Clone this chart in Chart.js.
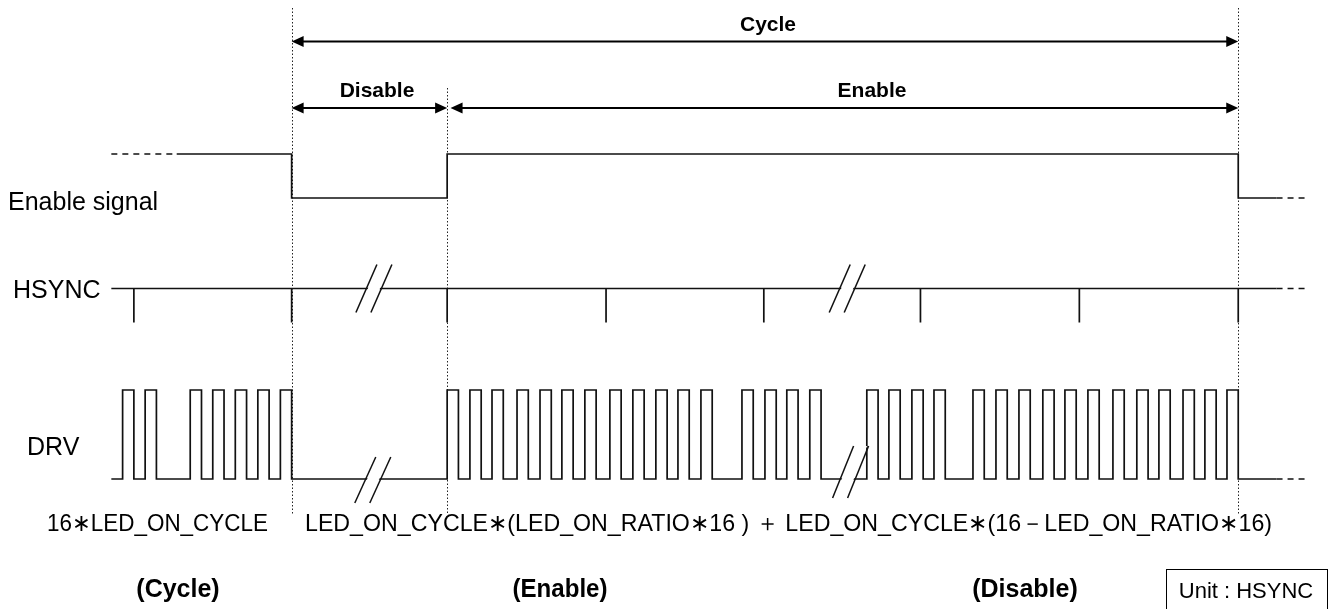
<!DOCTYPE html>
<html>
<head>
<meta charset="utf-8">
<script src="https://cdn.jsdelivr.net/npm/chart.js@4.4.1/dist/chart.umd.min.js"></script>
<style>
  html, body { margin: 0; padding: 0; background: #fff; }
  #wrap { width: 1332px; height: 609px; }
</style>
</head>
<body>
<div id="wrap"><canvas id="cadre" width="1332" height="609"></canvas></div>
<script>
// time axis counted in DRV slots, 0 = start of the cycle
const hsyncTicks = [-7, 0, 6.9, 13.95, 20.95, 27.9, 34.95, 42];
const drvRises = [
  -7.5, -6.5, -4.5, -3.5, -2.5, -1.5, -0.5,
  6.9, 7.91, 8.89, 10.0, 11.02, 11.99, 13.01, 14.12, 15.14, 16.16, 17.14, 18.16,
  19.98, 21.0, 21.97, 22.99,
  25.52, 26.5, 27.52, 28.5,
  30.23, 31.25, 32.27, 33.33, 34.31, 35.33, 36.44, 37.5, 38.48, 39.55, 40.52, 41.5
];
const drvHighLen = 0.5;
const enableStartLevel = 1;
const enableEdges = [0, 6.9, 42];
const enableLevels = [0, 1, 0];
const hsyncBreaks = [3.65, 24.65];
const drvBreaks = [3.6, 24.8];
const cycleMarks = [0, 6.9, 42];
const spanNames = ["Cycle", "Disable", "Enable"];
const spanFrom = [0, 0, 7.05];
const spanTo = [42, 6.9, 42];
const laneNames = ["Enable signal", "HSYNC", "DRV"];
const formulaTexts = [
  "16\u2217LED_ON_CYCLE",
  "LED_ON_CYCLE\u2217(LED_ON_RATIO\u221716 ) \uFF0B LED_ON_CYCLE\u2217(16\uFF0DLED_ON_RATIO\u221716)"
];
const formulaNames = ["(Cycle)", "(Enable)", "(Disable)"];
const unitText = "Unit : HSYNC";

// where the lines start / go dashed
const traceStart = -8;
const enableSolidFrom = -5.1;
const tailDash = 43.7;
const traceEnd = 45.05;

// lanes on the y scale (rows from the top)
const lane = {
  enable: { hi: 154, lo: 198 },
  hsync: { base: 288.5, tick: 322.5 },
  drv: { hi: 390, lo: 479 }
};

const ink = "#111";
const font = "'Liberation Sans', Arial, sans-serif";

// ---- build the datasets ----
let enableData = [
  { x: traceStart, y: enableStartLevel ? lane.enable.hi : lane.enable.lo },
  { x: enableSolidFrom, y: enableStartLevel ? lane.enable.hi : lane.enable.lo }
];
for (let i = 0; i < enableEdges.length; i++) {
  enableData.push({ x: enableEdges[i], y: enableLevels[i] ? lane.enable.hi : lane.enable.lo });
}
enableData.push({ x: tailDash, y: lane.enable.lo });
enableData.push({ x: traceEnd, y: lane.enable.lo });

let hsyncData = [{ x: traceStart, y: lane.hsync.base }];
hsyncTicks.forEach(t => {
  hsyncData.push({ x: t, y: lane.hsync.base });
  hsyncData.push({ x: t, y: lane.hsync.tick });
  hsyncData.push({ x: t, y: lane.hsync.base });
});
hsyncData.push({ x: tailDash, y: lane.hsync.base });
hsyncData.push({ x: traceEnd, y: lane.hsync.base });

let drvData = [{ x: traceStart, y: lane.drv.lo }];
drvRises.forEach(r => {
  drvData.push({ x: r, y: lane.drv.hi });
  drvData.push({ x: r + drvHighLen, y: lane.drv.lo });
});
drvData.push({ x: tailDash, y: lane.drv.lo });
drvData.push({ x: traceEnd, y: lane.drv.lo });

function trace(data, stepped, solidFrom) {
  return {
    data: data,
    stepped: stepped,
    borderColor: ink,
    borderWidth: 1.7,
    pointRadius: 0,
    fill: false,
    tension: 0,
    segment: {
      borderDash: ctx => {
        if (ctx.p1.parsed.x <= solidFrom + 0.001 || ctx.p0.parsed.x >= tailDash - 0.001) {
          return [6, 5];
        }
        return undefined;
      }
    }
  };
}

// ---- extra drawing: guides, arrows, breaks, texts ----
function arrowHead(ctx, x, y, dir) {
  ctx.beginPath();
  ctx.moveTo(x, y);
  ctx.lineTo(x + dir * 12, y - 5.5);
  ctx.lineTo(x + dir * 12, y + 5.5);
  ctx.closePath();
  ctx.fill();
}

function breakMark(ctx, cx, cy, dy) {
  const dx = 10.5, gap = 7.5;
  ctx.save();
  ctx.fillStyle = "#fff";
  ctx.beginPath();
  ctx.moveTo(cx - gap - dx + 1.5, cy + dy);
  ctx.lineTo(cx - gap + dx + 1.5, cy - dy);
  ctx.lineTo(cx + gap + dx - 1.5, cy - dy);
  ctx.lineTo(cx + gap - dx - 1.5, cy + dy);
  ctx.closePath();
  ctx.fill();
  ctx.strokeStyle = ink;
  ctx.lineWidth = 1.5;
  [-gap, gap].forEach(o => {
    ctx.beginPath();
    ctx.moveTo(cx + o - dx, cy + dy);
    ctx.lineTo(cx + o + dx, cy - dy);
    ctx.stroke();
  });
  ctx.restore();
}

function text(ctx, str, x, y, opts) {
  ctx.font = (opts.bold ? "bold " : "") + opts.size + "px " + font;
  ctx.textAlign = opts.align || "left";
  ctx.textBaseline = "alphabetic";
  if (opts.maxWidth) {
    ctx.fillText(str, x, y, opts.maxWidth);
  } else {
    ctx.fillText(str, x, y);
  }
}

const guides = {
  id: "guides",
  beforeDatasetsDraw(chart) {
    const ctx = chart.ctx;
    const xs = chart.scales.x, ys = chart.scales.y;
    ctx.save();
    ctx.strokeStyle = "#222";
    ctx.lineWidth = 1;
    ctx.setLineDash([1.5, 2]);
    cycleMarks.forEach((t, i) => {
      const x = Math.round(xs.getPixelForValue(t)) + 0.5;
      const top = i === 1 ? 88 : 8;
      ctx.beginPath();
      ctx.moveTo(x, ys.getPixelForValue(top));
      ctx.lineTo(x, ys.getPixelForValue(515));
      ctx.stroke();
    });
    ctx.restore();
  },
  afterDatasetsDraw(chart) {
    const ctx = chart.ctx;
    const xs = chart.scales.x, ys = chart.scales.y;
    ctx.save();

    // breaks
    hsyncBreaks.forEach(t => breakMark(ctx, xs.getPixelForValue(t), ys.getPixelForValue(lane.hsync.base), 24));
    breakMark(ctx, xs.getPixelForValue(drvBreaks[0]), ys.getPixelForValue(480), 23);
    breakMark(ctx, xs.getPixelForValue(drvBreaks[1]), ys.getPixelForValue(472), 26);

    // span arrows
    ctx.fillStyle = "#000";
    ctx.strokeStyle = "#000";
    const arrowY = [41.5, 108, 108];
    const labelY = [31, 97, 97];
    const labelX = [768, 377, 872];
    for (let i = 0; i < spanNames.length; i++) {
      const x1 = xs.getPixelForValue(spanFrom[i]);
      const x2 = xs.getPixelForValue(spanTo[i]);
      const y = ys.getPixelForValue(arrowY[i]);
      ctx.lineWidth = 2;
      ctx.beginPath();
      ctx.moveTo(x1 + 6, y);
      ctx.lineTo(x2 - 6, y);
      ctx.stroke();
      arrowHead(ctx, x1, y, 1);
      arrowHead(ctx, x2, y, -1);
      text(ctx, spanNames[i], labelX[i], labelY[i], { size: 21, bold: true, align: "center" });
    }

    // lane names
    text(ctx, laneNames[0], 8, 210, { size: 25, maxWidth: 157 });
    text(ctx, laneNames[1], 13, 298, { size: 25, maxWidth: 90 });
    text(ctx, laneNames[2], 27, 455, { size: 25 });

    // formula lines
    text(ctx, formulaTexts[0], 47, 531, { size: 24, maxWidth: 221 });
    text(ctx, formulaTexts[1], 305, 531, { size: 24, maxWidth: 967 });
    text(ctx, formulaNames[0], 178, 597, { size: 25, bold: true, align: "center", maxWidth: 87 });
    text(ctx, formulaNames[1], 560, 597, { size: 25, bold: true, align: "center", maxWidth: 95 });
    text(ctx, formulaNames[2], 1025, 597, { size: 25, bold: true, align: "center", maxWidth: 110 });

    // unit box
    ctx.lineWidth = 1;
    ctx.strokeRect(1166.5, 569.5, 161, 45);
    text(ctx, unitText, 1246, 598, { size: 22, align: "center" });

    ctx.restore();
  }
};

const canvas = document.getElementById("cadre");
const chart = new Chart(canvas.getContext("2d"), {
  type: "line",
  data: {
    datasets: [
      trace(enableData, true, enableSolidFrom),
      trace(hsyncData, false, traceStart),
      trace(drvData, true, traceStart)
    ]
  },
  options: {
    responsive: false,
    animation: false,
    devicePixelRatio: 1,
    layout: { padding: 0 },
    plugins: { legend: { display: false }, tooltip: { enabled: false } },
    scales: {
      x: { type: "linear", min: -12.94, max: 46.16, display: false },
      y: { type: "linear", min: 0, max: 609, reverse: true, display: false }
    }
  },
  plugins: [guides]
});
</script>
</body>
</html>
